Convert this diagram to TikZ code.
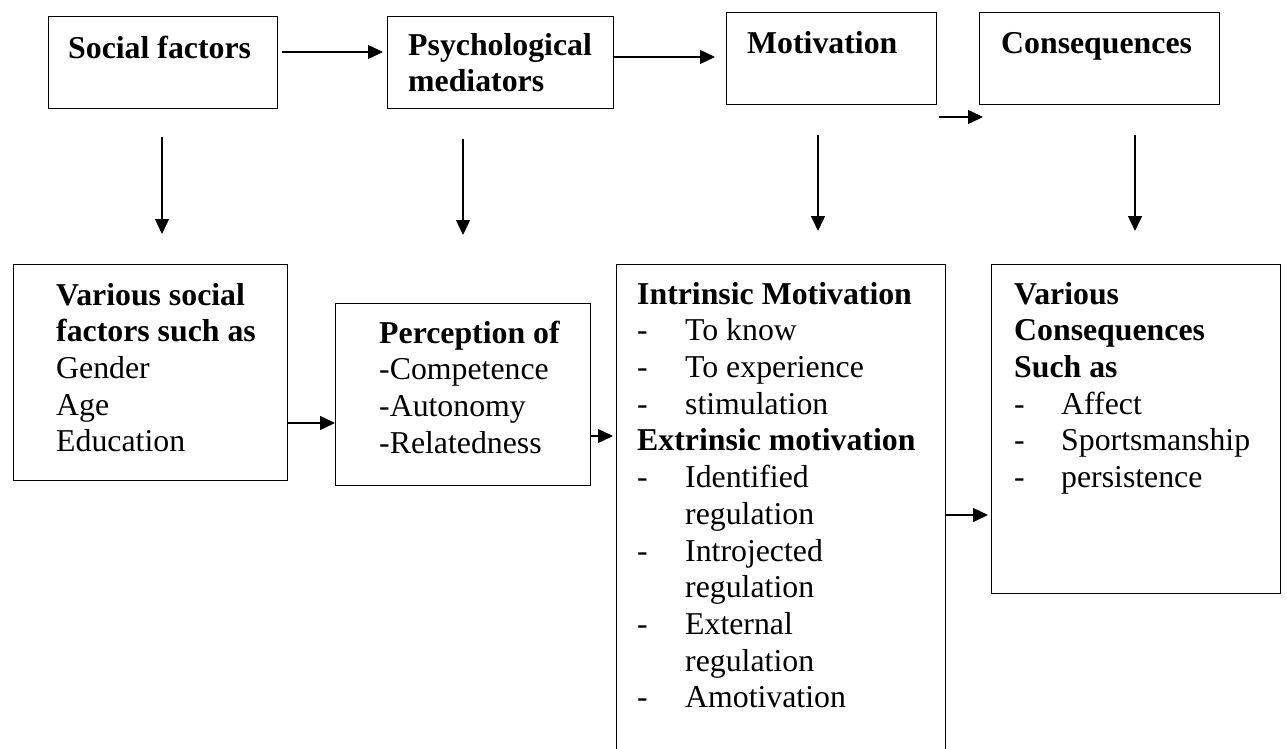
\documentclass[tikz,border=0pt]{standalone}
\usepackage{fontspec}
\setmainfont{Liberation Serif}
\usetikzlibrary{arrows.meta}
\newcommand\fsz{\fontsize{31.8}{36.7}\selectfont}
\newcommand\dash[1]{\makebox[48pt][l]{-}#1}
\newcommand\cont[1]{\hspace*{48pt}#1}
\begin{document}
\begin{tikzpicture}[x=1pt,y=-1pt,
  box/.style={draw, line width=1.3pt, anchor=north west, inner sep=0pt},
  txt/.style={anchor=north west, inner sep=0pt, align=left, font=\fsz},
  arr/.style={line width=1.4pt, -{Triangle[length=15pt,width=14pt]}}]
\useasboundingbox (0,0) rectangle (1287,749);
\clip (0,0) rectangle (1287,749);
\fill[white] (0,0) rectangle (1287,749);
% top row boxes
\node[box, minimum width=229pt, minimum height=92pt] (b1) at (48,16) {};
\node[box, minimum width=226pt, minimum height=92pt] (b2) at (387,16) {};
\node[box, minimum width=210pt, minimum height=92pt] (b3) at (726,12) {};
\node[box, minimum width=240pt, minimum height=92pt] (b4) at (979,12) {};
% bottom row boxes
\node[box, minimum width=274pt, minimum height=216pt] (b5) at (13,264) {};
\node[box, minimum width=255pt, minimum height=182pt] (b6) at (335,303) {};
\node[box, minimum width=329pt, minimum height=520pt] (b7) at (616,264) {};
\node[box, minimum width=289pt, minimum height=329pt] (b8) at (991,264) {};
% texts
\node[txt] (t1) at (68,32.3) {\strut\textbf{Social factors}};
\node[txt] (t2) at (408,29.3) {\strut\textbf{Psychological}\\\strut\textbf{mediators}};
\node[txt] (t3) at (747,27.3) {\strut\textbf{Motivation}};
\node[txt] (t4) at (1001,27.3) {\strut\textbf{Consequences}};
\node[txt] (t5) at (56,279.3) {\strut\textbf{Various social}\\\strut\textbf{factors such as}\\\strut Gender\\\strut Age\\\strut Education};
\node[txt] (t6) at (379,317.3) {\strut\textbf{Perception of}\\\strut -Competence\\\strut -Autonomy\\\strut -Relatedness};
\node[txt] (t7) at (637,278.3) {\strut\textbf{Intrinsic Motivation}\\
  \strut\dash{To know}\\\strut\dash{To experience}\\\strut\dash{stimulation}\\
  \strut\textbf{Extrinsic motivation}\\
  \strut\dash{Identified}\\\strut\cont{regulation}\\
  \strut\dash{Introjected}\\\strut\cont{regulation}\\
  \strut\dash{External}\\\strut\cont{regulation}\\
  \strut\dash{Amotivation}};
\node[txt] (t8) at (1014,278.3) {\strut\textbf{Various}\\\strut\textbf{Consequences}\\\strut\textbf{Such as}\\
  \strut\makebox[47pt][l]{-}Affect\\\strut\makebox[47pt][l]{-}Sportsmanship\\\strut\makebox[47pt][l]{-}persistence};
% free arrow end points
\coordinate (d1s) at (162,137); \coordinate (d1e) at (162,234);
\coordinate (d2s) at (463,139); \coordinate (d2e) at (463,235);
\coordinate (d3s) at (818,135); \coordinate (d3e) at (818,231);
\coordinate (d4s) at (1135,135); \coordinate (d4e) at (1135,231);
\coordinate (h3s) at (939,117); \coordinate (h3e) at (983,117);
% arrows
\draw[arr, shorten <=4pt, shorten >=4pt] (b1.east |- 0,52) -- (b2.west |- 0,52);
\draw[arr, shorten >=11pt] (b2.east |- 0,57) -- (b3.west |- 0,57);
\draw[arr] (h3s) -- (h3e);
\draw[arr] (d1s) -- (d1e);
\draw[arr] (d2s) -- (d2e);
\draw[arr] (d3s) -- (d3e);
\draw[arr] (d4s) -- (d4e);
\draw[arr] (b5.east |- 0,423) -- (b6.west |- 0,423);
\draw[arr, shorten >=3pt] (b6.east |- 0,436) -- (b7.west |- 0,436);
\draw[arr, shorten >=3pt] (b7.east |- 0,515) -- (b8.west |- 0,515);
\end{tikzpicture}
\end{document}
